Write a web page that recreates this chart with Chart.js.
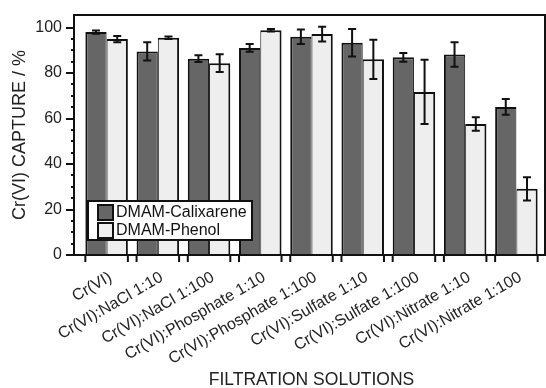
<!DOCTYPE html>
<html>
<head>
<meta charset="utf-8">
<script src="https://cdn.jsdelivr.net/npm/chart.js@4.4.1/dist/chart.umd.min.js"></script>
<style>
html,body{margin:0;padding:0;background:#fff;}
#wrap{width:546px;height:388px;position:relative;}
</style>
</head>
<body>
<div id="wrap"><canvas id="c" width="546" height="388"></canvas></div>
<script>
const categories = ["Cr(VI)", "Cr(VI):NaCl 1:10", "Cr(VI):NaCl 1:100", "Cr(VI):Phosphate 1:10", "Cr(VI):Phosphate 1:100", "Cr(VI):Sulfate 1:10", "Cr(VI):Sulfate 1:100", "Cr(VI):Nitrate 1:10", "Cr(VI):Nitrate 1:100"];
const calixarene = [98.0, 89.5, 86.3, 91.0, 95.9, 93.3, 86.9, 88.1, 65.1];
const calixareneErr = [0.7, 4.0, 1.5, 1.7, 3.2, 6.0, 1.9, 5.4, 3.5];
const phenol = [94.9, 95.5, 84.3, 98.8, 97.1, 86.0, 71.7, 57.6, 29.1];
const phenolErr = [1.4, 0.5, 3.9, 0.5, 3.2, 8.6, 14.1, 3.0, 5.1];
const yTickValues = [0, 20, 40, 60, 80, 100];
const yMinorStep = 5;
const seriesNames = ["DMAM-Calixarene", "DMAM-Phenol"];
const errors = [calixareneErr, phenolErr];

const FONT = "'Liberation Sans', Arial, sans-serif";
const INK = '#111';

const decor = {
  id: 'decor',
  afterDatasetsDraw(chart) {
    const ctx = chart.ctx;
    const a = chart.chartArea;
    const y = chart.scales.y;
    const fl = a.left - 7, fr = a.right + 3;
    ctx.save();
    ctx.strokeStyle = INK;
    ctx.lineWidth = 2;
    // error bars
    chart.data.datasets.forEach((ds, di) => {
      const meta = chart.getDatasetMeta(di);
      meta.data.forEach((bar, i) => {
        const v = ds.data[i], e = errors[di][i];
        const yt = y.getPixelForValue(v + e), yb = y.getPixelForValue(v - e);
        ctx.beginPath();
        ctx.moveTo(bar.x, yt); ctx.lineTo(bar.x, yb);
        ctx.moveTo(bar.x - 4, yt); ctx.lineTo(bar.x + 4, yt);
        ctx.moveTo(bar.x - 4, yb); ctx.lineTo(bar.x + 4, yb);
        ctx.stroke();
      });
    });
    // frame
    ctx.beginPath();
    ctx.rect(fl, a.top, fr - fl, a.bottom - a.top);
    ctx.stroke();
    // y ticks
    ctx.beginPath();
    yTickValues.forEach(v => {
      const p = Math.round(y.getPixelForValue(v));
      ctx.moveTo(fl - 8, p); ctx.lineTo(fl, p);
    });
    for (let v = 0; v <= yTickValues[yTickValues.length - 1]; v += yMinorStep) {
      if (yTickValues.includes(v)) continue;
      const p = Math.round(y.getPixelForValue(v));
      ctx.moveTo(fl - 3, p); ctx.lineTo(fl + 1, p);
    }
    ctx.stroke();
    // x ticks at group edges
    ctx.beginPath();
    const m0 = chart.getDatasetMeta(0), m1 = chart.getDatasetMeta(1);
    m0.data.forEach((b, i) => {
      const l = b.x - b.width / 2, r = m1.data[i].x + m1.data[i].width / 2;
      ctx.moveTo(l, a.bottom); ctx.lineTo(l, a.bottom + 7);
      ctx.moveTo(r, a.bottom); ctx.lineTo(r, a.bottom + 7);
    });
    ctx.stroke();
    // legend
    const lx = a.left + 7, ly = a.bottom - 54, lw = 164, lh = 39;
    ctx.fillStyle = '#fff';
    ctx.fillRect(lx, ly, lw, lh);
    ctx.lineWidth = 2;
    ctx.strokeRect(lx, ly, lw, lh);
    ctx.font = '16px ' + FONT;
    ctx.textBaseline = 'middle';
    chart.data.datasets.forEach((ds, di) => {
      const sy = ly + 4 + di * 18;
      ctx.fillStyle = ds.backgroundColor;
      ctx.fillRect(lx + 10, sy, 15, 15);
      ctx.lineWidth = 2;
      ctx.strokeRect(lx + 10, sy, 15, 15);
      ctx.fillStyle = '#111';
      ctx.fillText(ds.label, lx + 28, sy + 8);
    });
    ctx.restore();
  }
};

new Chart(document.getElementById('c'), {
  type: 'bar',
  data: {
    labels: categories,
    datasets: [
      { label: seriesNames[0], data: calixarene, backgroundColor: '#666666', borderColor: INK,
        borderWidth: { top: 2, left: 2, right: 1, bottom: 0 }, borderSkipped: false },
      { label: seriesNames[1], data: phenol, backgroundColor: '#eeeeee', borderColor: INK,
        borderWidth: { top: 2, left: 1, right: 2, bottom: 0 }, borderSkipped: false }
    ]
  },
  options: {
    responsive: false,
    animation: false,
    layout: { padding: { top: 15, right: 4, left: 0, bottom: 0 } },
    datasets: { bar: { categoryPercentage: 0.83, barPercentage: 1.0 } },
    plugins: { legend: { display: false }, tooltip: { enabled: false } },
    scales: {
      x: {
        grid: { display: false, drawTicks: false },
        border: { display: false },
        ticks: { font: { family: FONT, size: 16 }, color: '#222', minRotation: 30, maxRotation: 30, autoSkip: false, padding: 13, labelOffset: 4 },
        title: { display: true, text: 'FILTRATION SOLUTIONS', font: { family: FONT, size: 17.5, lineHeight: 0.85 }, color: '#222', padding: { top: 0, bottom: 0 } },
        afterFit(s) { s.height = 133; s.paddingLeft = 0; s.paddingRight = 0; }
      },
      y: {
        min: 0, max: 105.5,
        grid: { display: false, drawTicks: false },
        border: { display: false },
        afterBuildTicks(s) { s.ticks = yTickValues.map(v => ({ value: v })); },
        ticks: { font: { family: FONT, size: 16 }, color: '#222', padding: 19 },
        title: { display: true, text: 'Cr(VI) CAPTURE / %', font: { family: FONT, size: 18, lineHeight: 1.25 }, color: '#222', padding: { top: 9, bottom: 0 } },
        afterFit(s) { s.width = 81; s.paddingTop = 0; s.paddingBottom = 0; }
      }
    }
  },
  plugins: [decor]
});
</script>
</body>
</html>
